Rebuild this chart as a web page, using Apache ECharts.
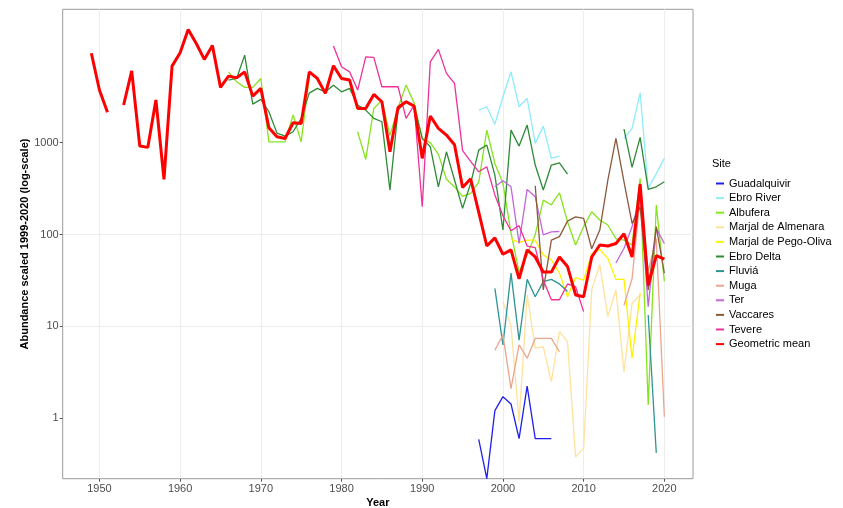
<!DOCTYPE html>
<html>
<head>
<meta charset="utf-8">
<script src="https://cdn.jsdelivr.net/npm/echarts@6/dist/echarts.min.js"></script>
<style>
    html, body { margin: 0; padding: 0; background: #fff; }
    #chart { width: 843px; height: 508px; }
</style>
</head>
<body>
<div id="chart"></div>
<script>
// values (abundance, log scale); null = no survey that year
const guadalquivirStart = 1997
const guadalquivir = [0.59, 0.22, 1.21, 1.72, 1.43, 0.6, 2.24, 0.6, 0.6, 0.6]

const ebroRiverStart = 1997
const ebroRiver = [2260, 2460, 1590, 3160, 5910, 2460, 3030, 983, 1515, 675, 715,
    null, null, null, null, null, null, null, 1115, 1430, 3490, 318, 460, 675]

const albuferaStart = 1966
const albufera = [5900, 4600, 4000, 4000, 5000, 1020, 1020, 1020, 2000, 1020, 5200,
    null, null, null, null, null, 1315, 658, 2360, 2900, 1200, 2400, 4230, 2700, 1100,
    1000, 750, 400, 330, 260, 280, 370, 1370, 595, 361, 104, 39, 60, 100, 237, 210,
    285, 138, 77, 122, 177, 144, 127, 90, 87, 77, 410, 1.4, 210, 31]

const almenaraStart = 2000
const almenara = [18.6, 10, 0.92, 22, 5.8, 6.0, 2.5, 8.8, 6.8, 0.38, 0.47, 25, 47, 12.8, 25, 3.2, 17.8, 22]

const pegoOlivaStart = 2001
const pegoOliva = [89, 82, 87, 87, 60, 53, 38, 21, 34, 32, 62, 69, 55, 32.5, 32.5, 4.5, 23]

const ebroDeltaStart = 1966
const ebroDelta = [4800, 5000, 8980, 2630, 2960, 2170, 1270, 1180, 1315, 1840, 3460,
    3900, 3580, 4230, 3580, 3900, 2570, 2260, 1840, 1690, 305, 2260, 2790, 2500, 1115,
    902, 331, 796, 392, 193, 361, 830, 942, 444, 112, 1371, 918, 1555, 571, 305, 571,
    603, 455, null, null, null, null, null, null, 1406, 538, 1142, 310, 331, 375]

const fluviaStart = 1999
const fluvia = [26, 6.3, 38, 7.1, 32.5, 21, 30.7, 32.5, 29, 24,
    null, null, null, null, null, null, null, null, null, 13.3, 0.42]

const mugaStart = 1999
const muga = [5.5, 8.1, 2.1, 6.3, 4.5, 7.4, 7.4, 7.4, 5.3,
    null, null, null, null, null, null, null, 17, 33, 250, 40, 90, 1.04]

const terStart = 1999
const ter = [331, 385, 331, 80, 310, 258, 99, 107, 108,
    null, null, null, null, null, null, 49, 71, 122, 258, 16.4, 117, 80]

const vaccaresStart = 2004
const vaccares = [340, 25, 87, 95, 140, 156, 150, 70, 112, 392, 1115, 375, 132, 200, 25, 122, 38]

const tevereStart = 1979
const tevere = [11250, 6700, 5900, 3740, 8600, 8480, 4060, 4060, 4060, 1840, 2570, 201,
    7590, 10360, 5680, 4420, 820, 625, 482, 547, 270, 160, 110, 125, 75, 72, 32, 19.5,
    19.5, 29, 27, 14.5]

const meanStart = 1949
const geometricMean = [9400, 3740, 2140, null, 2570, 6060, 918, 889, 2913, 398, 6810,
    9510, 17100, 12000, 8060, 11400, 4000, 5300, 5080, 5900, 3210, 3900, 1450, 1160, 1110,
    1650, 1620, 5900, 5000, 3440, 6870, 5000, 4800, 2360, 2360, 3350, 2790, 796, 2420,
    2790, 2500, 675, 1950, 1430, 1210, 950, 325, 405, 175, 75, 92, 61, 68, 33, 68, 57, 39,
    39, 57, 45, 22, 21, 57, 77, 75, 80, 102, 57, 355, 28, 59, 54]

const xTicks = [1950, 1960, 1970, 1980, 1990, 2000, 2010, 2020]
const yTicks = [1, 10, 100, 1000]

const sites = [
    { name: 'Guadalquivir', start: guadalquivirStart, values: guadalquivir, color: '#1f1fee' },
    { name: 'Ebro River', start: ebroRiverStart, values: ebroRiver, color: '#8eecfb' },
    { name: 'Albufera', start: albuferaStart, values: albufera, color: '#86e41c' },
    { name: 'Marjal de Almenara', start: almenaraStart, values: almenara, color: '#ffe29c' },
    { name: 'Marjal de Pego-Oliva', start: pegoOlivaStart, values: pegoOliva, color: '#fff200' },
    { name: 'Ebro Delta', start: ebroDeltaStart, values: ebroDelta, color: '#2f8a35' },
    { name: 'Fluviá', start: fluviaStart, values: fluvia, color: '#2e9494' },
    { name: 'Muga', start: mugaStart, values: muga, color: '#eaa58c' },
    { name: 'Ter', start: terStart, values: ter, color: '#c366dc' },
    { name: 'Vaccares', start: vaccaresStart, values: vaccares, color: '#8b5a3c' },
    { name: 'Tevere', start: tevereStart, values: tevere, color: '#f0309a' },
    { name: 'Geometric mean', start: meanStart, values: geometricMean, color: '#ff0000', width: 3 },
]

const font = 'Liberation Sans, Arial, sans-serif'

function toPoints(start, values) {
    return values.map((v, i) => [start + i, v])
}

const chart = echarts.init(document.getElementById('chart'), null, { renderer: 'canvas' })

const option = {
    animation: false,
    textStyle: { fontFamily: font },
    title: {
        text: 'Site',
        left: 707,
        top: 153,
        textStyle: { fontSize: 11, fontWeight: 'normal', color: '#000', fontFamily: font }
    },
    legend: {
        orient: 'vertical',
        left: 711,
        top: 172,
        icon: 'rect',
        itemWidth: 8,
        itemHeight: 2,
        itemGap: 1.6,
        textStyle: { fontSize: 11, lineHeight: 13, color: '#000', fontFamily: font },
        data: sites.map(s => s.name)
    },
    grid: {
        left: 62.7,
        right: 150,
        top: 9.3,
        bottom: 29.3,
        outerBoundsMode: 'none',
        containLabel: false,
        show: true,
        borderColor: '#9a9a9a',
        borderWidth: 1
    },
    xAxis: {
        type: 'value',
        min: 1945.45,
        max: 2023.55,
        name: 'Year',
        nameLocation: 'middle',
        nameGap: 19,
        nameMoveOverlap: false,
        nameTextStyle: { fontSize: 11, fontWeight: 'bold', color: '#000', fontFamily: font },
        axisLine: { show: false },
        axisTick: { show: true, length: 3, customValues: xTicks, lineStyle: { color: '#555' } },
        axisLabel: {
            customValues: xTicks,
            fontSize: 11,
            color: '#4d4d4d',
            margin: 5,
            fontFamily: font,
            formatter: v => String(v)
        },
        splitLine: { show: true, lineStyle: { color: '#ededed', width: 1 } }
    },
    yAxis: {
        type: 'log',
        logBase: 10,
        min: 0.22,
        max: 28300,
        name: 'Abundance scaled 1999-2020 (log-scale)',
        nameLocation: 'middle',
        nameGap: 32,
        nameMoveOverlap: false,
        nameTextStyle: { fontSize: 11, fontWeight: 'bold', color: '#000', fontFamily: font },
        axisLine: { show: false },
        axisTick: { show: true, length: 3, customValues: yTicks, lineStyle: { color: '#555' } },
        axisLabel: {
            fontSize: 11,
            color: '#4d4d4d',
            margin: 4,
            fontFamily: font,
            showMinLabel: false,
            showMaxLabel: false,
            formatter: v => yTicks.some(t => Math.abs(t - v) < 1e-6) ? String(Math.round(v)) : ''
        },
        splitLine: {
            show: true,
            showMinLine: false,
            showMaxLine: false,
            lineStyle: { color: ['#ededed', '#ededed', '#ededed', '#ededed', 'rgba(0,0,0,0)'], width: 1 }
        }
    },
    series: sites.map(s => ({
        name: s.name,
        type: 'line',
        data: toPoints(s.start, s.values),
        showSymbol: false,
        symbol: 'none',
        connectNulls: false,
        color: s.color,
        itemStyle: { color: s.color },
        lineStyle: { color: s.color, width: s.width || 1.3 },
        emphasis: { disabled: true }
    }))
}

chart.setOption(option)
</script>
</body>
</html>
